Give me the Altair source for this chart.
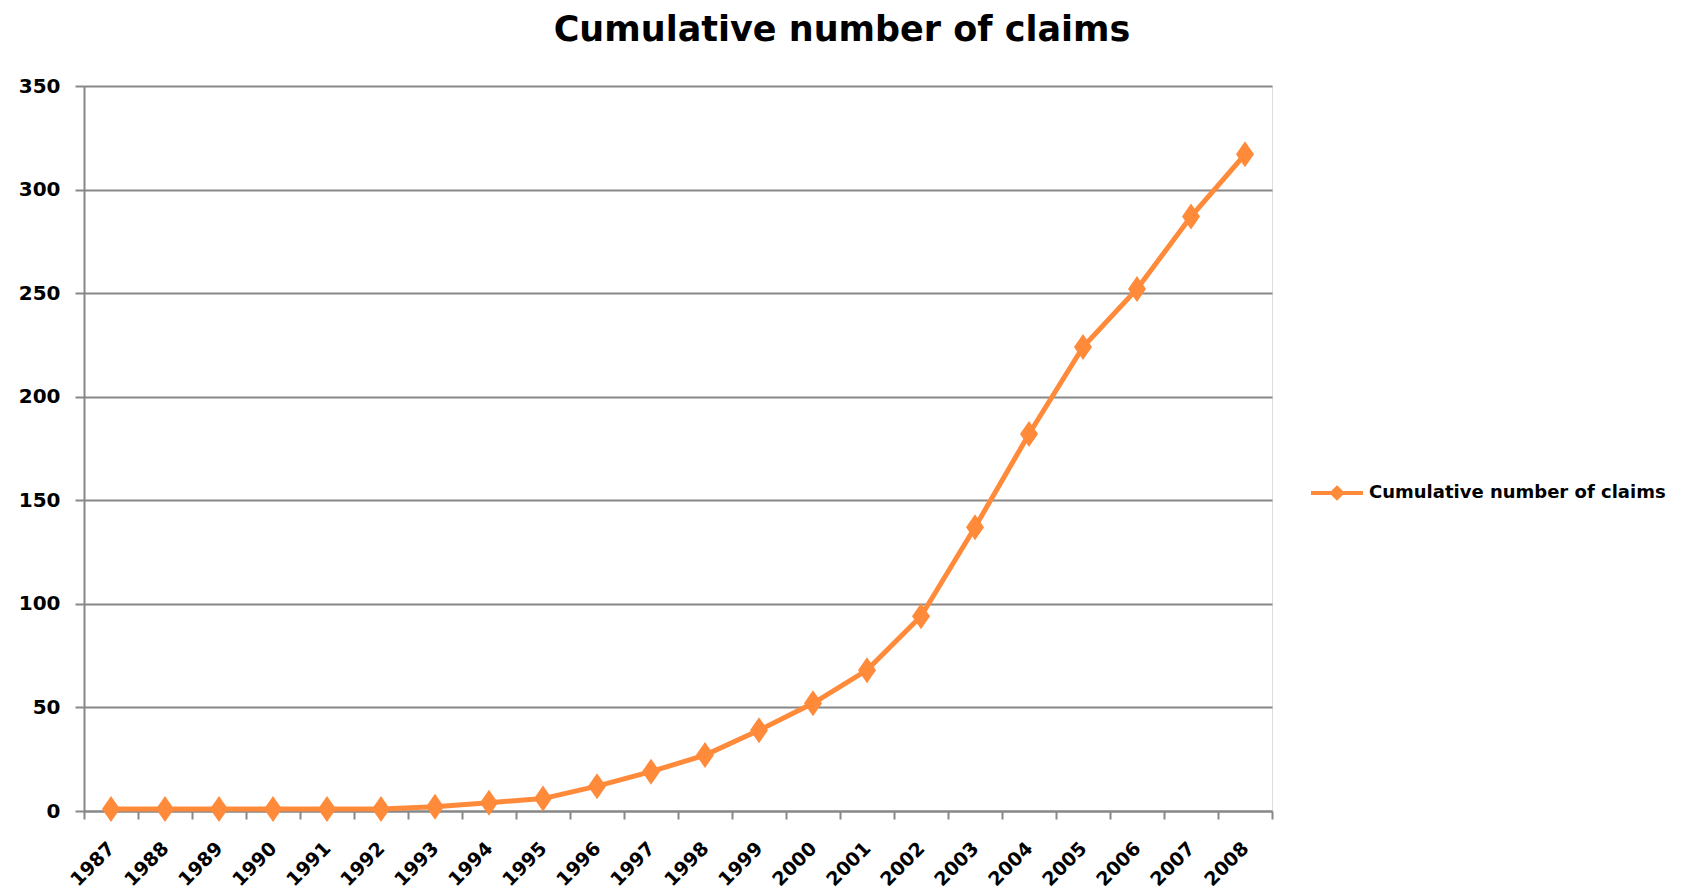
import altair as alt
import pandas as pd

years = ["1987", "1988", "1989", "1990", "1991", "1992", "1993", "1994", "1995", "1996", "1997",
         "1998", "1999", "2000", "2001", "2002", "2003", "2004", "2005", "2006", "2007", "2008"]
claims = [1, 1, 1, 1, 1, 1, 2, 4, 6, 12, 19, 27, 39, 52, 68, 94, 137, 182, 224, 252, 287, 317]
series_name = "Cumulative number of claims"
y_ticks = [0, 50, 100, 150, 200, 250, 300, 350]

df = pd.DataFrame({"year": years, "claims": claims, "series": series_name})

ORANGE = "#FF8A3A"
GRID = "#878787"
FONT = "DejaVu Sans"

x_enc = alt.X("year:O", sort=years, title=None,
              scale=alt.Scale(paddingInner=0, paddingOuter=0),
              axis=alt.Axis(labelAngle=-45, labelAlign="right", labelBaseline="middle",
                            labelFontSize=19, labelFontWeight="bold",
                            labelFont=FONT, labelColor="black", tickBand="extent",
                            tickSize=8, tickColor=GRID, tickWidth=2, domainColor=GRID,
                            domainWidth=2, labelPadding=26, grid=False))
y_enc = alt.Y("claims:Q", title=None,
              scale=alt.Scale(domain=[0, 350], nice=False),
              axis=alt.Axis(values=y_ticks, labelFontSize=20, labelFontWeight="bold",
                            labelFont=FONT, labelColor="black", tickSize=9, tickColor=GRID,
                            tickWidth=2, domainColor=GRID, domainWidth=2, labelPadding=15,
                            grid=True, gridColor=GRID, gridWidth=2))

legend_path = "M-2.6,0 H2.6 M0,-0.5 L0.5,0 L0,0.5 L-0.5,0 Z M0,-0.35 V0.35 M-0.35,0 H0.35"

line = alt.Chart(df).mark_line(strokeWidth=5, clip=False).encode(
    x=x_enc, y=y_enc,
    color=alt.Color("series:N", scale=alt.Scale(range=[ORANGE]), title=None,
                    legend=alt.Legend(orient="none", legendX=1241, legendY=395,
                                      symbolType=legend_path, symbolSize=400,
                                      symbolStrokeWidth=4, labelFontSize=18,
                                      labelFontWeight="bold", labelFont=FONT,
                                      labelColor="black", labelOffset=20,
                                      labelLimit=500)),
)

diamond = "M0,-1.3 L0.9,0 L0,1.3 L-0.9,0 Z"
points = alt.Chart(df).mark_point(filled=True, shape=diamond, size=400, opacity=1,
                                  color=ORANGE).encode(x=x_enc, y=y_enc)

chart = alt.layer(line, points).properties(
    width=1188, height=725,
    title=alt.TitleParams(series_name, fontSize=35, fontWeight="bold", font=FONT,
                          color="black", anchor="middle", dx=164, offset=28),
    autosize=alt.AutoSizeParams(type="none"),
    padding={"left": 76, "top": 78, "right": 406, "bottom": 82},
).configure_view(stroke=None, fill=None).configure(background="white")

chart.save("out.html", embed_options={"renderer": "svg", "actions": False})
